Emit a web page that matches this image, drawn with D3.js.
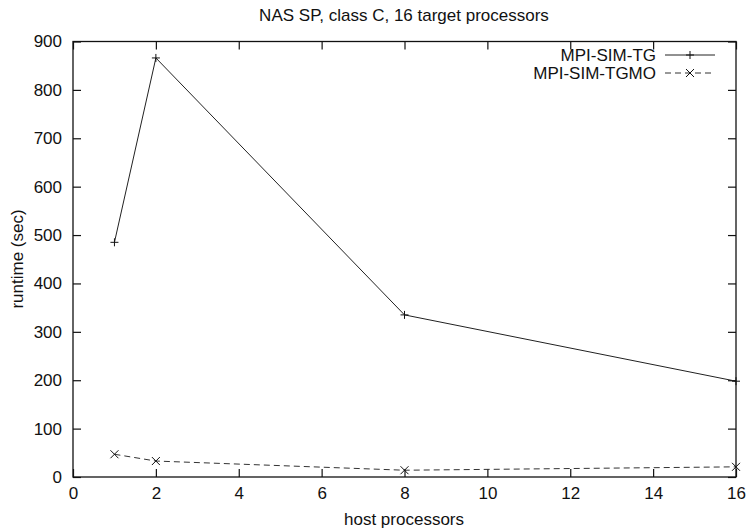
<!DOCTYPE html>
<html><head><meta charset="utf-8">
<script src="https://cdn.jsdelivr.net/npm/d3@7"></script>
<style>
body{margin:0;background:#fff;}
text{font-family:"Liberation Sans",Arial,sans-serif;fill:#111;}
</style></head>
<body>
<svg id="chart" width="747" height="528"></svg>
<script>
const hostProcs = [1, 2, 8, 16];
const tgRuntime = [485, 866, 335, 198];
const tgmoRuntime = [47, 33, 14, 21];
const xTicks = [0, 2, 4, 6, 8, 10, 12, 14, 16];
const yTicks = [0, 100, 200, 300, 400, 500, 600, 700, 800, 900];
const seriesNames = ["MPI-SIM-TG", "MPI-SIM-TGMO"];

const svg = d3.select("#chart");
const m = {left: 73, right: 736, top: 41.5, bottom: 477};
const x = d3.scaleLinear().domain([0, 16]).range([m.left, m.right]);
const y = d3.scaleLinear().domain([0, 900]).range([m.bottom, m.top]);
const tickLen = 8;
const fs = 17;

// frame
svg.append("rect").attr("x", m.left).attr("y", m.top)
  .attr("width", m.right - m.left).attr("height", m.bottom - m.top)
  .attr("fill", "none").attr("stroke", "#111").attr("stroke-width", 1.3);

// axes with inward ticks on all four sides
const axB = d3.axisBottom(x).tickValues(xTicks).tickSize(-tickLen).tickPadding(10);
const axT = d3.axisTop(x).tickValues(xTicks).tickSize(-tickLen).tickFormat("");
const axL = d3.axisLeft(y).tickValues(yTicks).tickSize(-tickLen).tickPadding(11);
const axR = d3.axisRight(y).tickValues(yTicks).tickSize(-tickLen).tickFormat("");

function styleAxis(g) {
  g.select(".domain").remove();
  g.selectAll(".tick line").attr("stroke", "#111").attr("stroke-width", 1.2);
  g.selectAll(".tick text").attr("font-size", fs).attr("fill", "#111")
    .style("font-family", "'Liberation Sans',Arial,sans-serif");
}
svg.append("g").attr("transform", `translate(0,${m.bottom})`).call(axB).call(styleAxis);
svg.append("g").attr("transform", `translate(0,${m.top})`).call(axT).call(styleAxis);
svg.append("g").attr("transform", `translate(${m.left},0)`).call(axL).call(styleAxis);
svg.append("g").attr("transform", `translate(${m.right},0)`).call(axR).call(styleAxis);

// titles
svg.append("text").attr("x", 404).attr("y", 21).attr("text-anchor", "middle")
  .attr("font-size", fs).text("NAS SP, class C, 16 target processors");
svg.append("text").attr("x", 404).attr("y", 525).attr("text-anchor", "middle")
  .attr("font-size", fs).text("host processors");
svg.append("text").attr("transform", "translate(23,259) rotate(-90)").attr("text-anchor", "middle")
  .attr("font-size", fs).text("runtime (sec)");

const line = d3.line().x(d => x(d[0])).y(d => y(d[1]));
const tgData = hostProcs.map((h, i) => [h, tgRuntime[i]]);
const tgmoData = hostProcs.map((h, i) => [h, tgmoRuntime[i]]);

svg.append("path").datum(tgData).attr("d", line).attr("fill", "none")
  .attr("stroke", "#222").attr("stroke-width", 1);
svg.append("path").datum(tgmoData).attr("d", line).attr("fill", "none")
  .attr("stroke", "#333").attr("stroke-width", 1).attr("stroke-dasharray", "6,4");

const ms = 4;
function plus(g, cx, cy) {
  g.append("path").attr("d", `M${cx - ms},${cy}H${cx + ms}M${cx},${cy - ms}V${cy + ms}`)
    .attr("stroke", "#111").attr("stroke-width", 1);
}
function cross(g, cx, cy) {
  g.append("path").attr("d", `M${cx - ms},${cy - ms}L${cx + ms},${cy + ms}M${cx - ms},${cy + ms}L${cx + ms},${cy - ms}`)
    .attr("stroke", "#111").attr("stroke-width", 1);
}
const mk = svg.append("g");
tgData.forEach(d => plus(mk, x(d[0]), y(d[1])));
tgmoData.forEach(d => cross(mk, x(d[0]), y(d[1])));

// legend
const lg = svg.append("g");
const lx1 = 665, lx2 = 715;
[[55, 0], [73, 1]].forEach(([ly, i]) => {
  lg.append("text").attr("x", 656).attr("y", ly + 6).attr("text-anchor", "end")
    .attr("font-size", fs).text(seriesNames[i]);
  const p = lg.append("line").attr("x1", lx1).attr("x2", lx2).attr("y1", ly).attr("y2", ly)
    .attr("stroke", i ? "#333" : "#222").attr("stroke-width", 1);
  if (i) { p.attr("stroke-dasharray", "6,4"); cross(lg, (lx1 + lx2) / 2, ly); }
  else plus(lg, (lx1 + lx2) / 2, ly);
});
</script>
</body></html>
